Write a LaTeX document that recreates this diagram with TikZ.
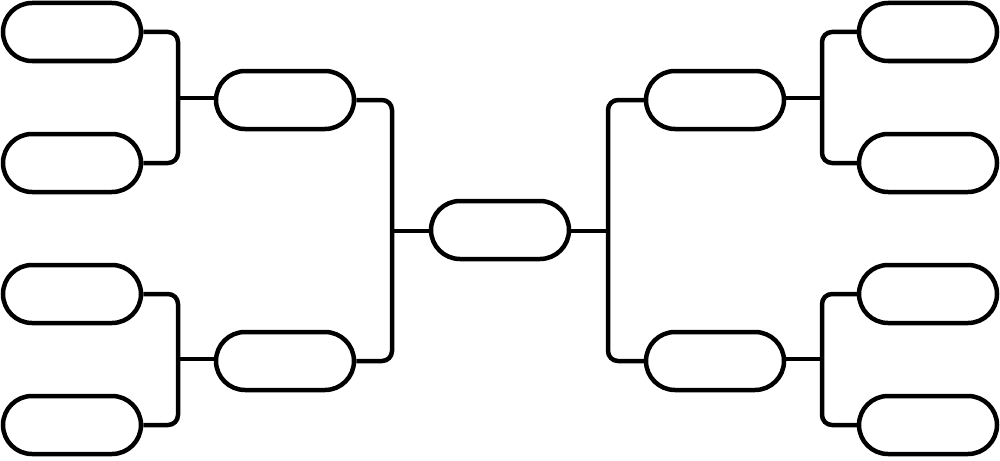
\documentclass[tikz,border=0pt]{standalone}
\begin{document}
\begin{tikzpicture}[x=1pt,y=-1pt,
  slot/.style={draw=black,line width=4.5pt,rectangle,rounded corners=29pt,
    minimum width=138pt,minimum height=58pt,inner sep=0pt,fill=white},
  link/.style={draw=black,line width=4.5pt,rounded corners=10pt}]
\useasboundingbox[fill=white] (0,0) rectangle (1000,460);
% left leaves
\node[slot] (l1) at (72,32) {};
\node[slot] (l2) at (72,163) {};
\node[slot] (l3) at (72,294) {};
\node[slot] (l4) at (72,425) {};
% right leaves
\node[slot] (r1) at (928,32) {};
\node[slot] (r2) at (928,163) {};
\node[slot] (r3) at (928,294) {};
\node[slot] (r4) at (928,425) {};
% semis
\node[slot] (ls1) at (285,100) {};
\node[slot] (ls2) at (285,361) {};
\node[slot] (rs1) at (715,100) {};
\node[slot] (rs2) at (715,361) {};
% final
\node[slot] (f) at (500,230) {};
% junctions
\coordinate (jl1) at (178,98);
\coordinate (jl2) at (178,359);
\coordinate (jr1) at (822,98);
\coordinate (jr2) at (822,359);
\coordinate (jl) at (392,231);
\coordinate (jr) at (608,231);
% connectors
\draw[link] (l1.east) -| (jl1) |- (l2.east);
\draw[link] (l3.east) -| (jl2) |- (l4.east);
\draw[link] (r1.west) -| (jr1) |- (r2.west);
\draw[link] (r3.west) -| (jr2) |- (r4.west);
\draw[link] (ls1.east) -| (jl) |- (ls2.east);
\draw[link] (rs1.west) -| (jr) |- (rs2.west);
\draw[link] (jl1) -- (jl1 -| ls1.west);
\draw[link] (jl2) -- (jl2 -| ls2.west);
\draw[link] (jr1) -- (jr1 -| rs1.east);
\draw[link] (jr2) -- (jr2 -| rs2.east);
\draw[link] (jl) -- (jl -| f.west);
\draw[link] (jr) -- (jr -| f.east);
\end{tikzpicture}
\end{document}
